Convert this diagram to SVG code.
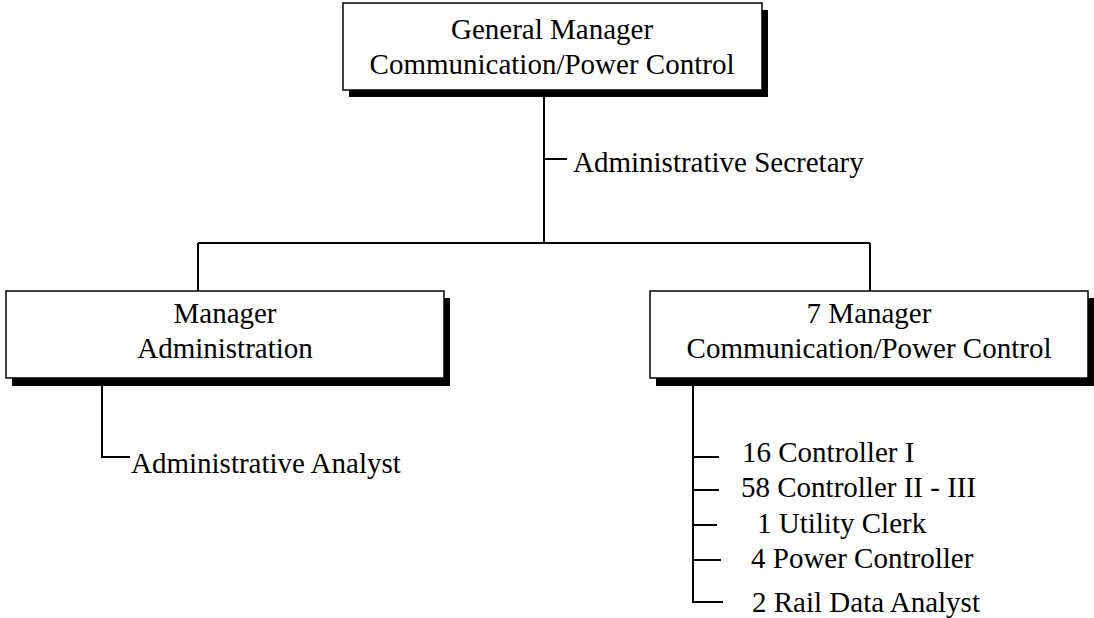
<svg xmlns="http://www.w3.org/2000/svg" width="1094" height="618" viewBox="0 0 1094 618">
<style>
.box{fill:#fff;stroke:#000;stroke-width:1.5}
.shadow{fill:#000}
.t{font-family:"Liberation Serif","Times New Roman",serif;font-size:29px;fill:#000}
.c{text-anchor:middle}
.conn{fill:none;stroke:#000;stroke-width:2}
</style>
<rect width="1094" height="618" fill="#fff"/>
<g id="connectors">
<path class="conn" d="M544 97 V243 M544 159 H567 M198 243 H870 M198 243 V291 M870 243 V291"/>
<path class="conn" d="M102 385 V457 H130"/>
<path class="conn" d="M693 385 V602 H723 M693 457 H719 M693 490 H719 M693 525 H717 M693 560 H721"/>
</g>
<g id="gm">
<rect class="shadow" x="349" y="10" width="419" height="87"/>
<rect class="box" x="343" y="3" width="419" height="87"/>
<text class="t c" x="552" y="39">General Manager</text>
<text class="t c" x="552" y="74">Communication/Power Control</text>
</g>
<g id="secretary">
<text class="t" x="573" y="172">Administrative Secretary</text>
</g>
<g id="mgr-admin">
<rect class="shadow" x="12" y="298" width="438" height="88"/>
<rect class="box" x="6" y="291" width="438" height="87"/>
<text class="t c" x="225" y="323">Manager</text>
<text class="t c" x="225" y="358">Administration</text>
</g>
<g id="analyst">
<text class="t" x="131" y="473">Administrative Analyst</text>
</g>
<g id="mgr-comm">
<rect class="shadow" x="656" y="298" width="438" height="88"/>
<rect class="box" x="650" y="291" width="438" height="87"/>
<text class="t c" x="869" y="323">7 Manager</text>
<text class="t c" x="869" y="358">Communication/Power Control</text>
</g>
<g id="staff">
<text class="t" x="742" y="462">16 Controller I</text>
<text class="t" x="741" y="497">58 Controller II - III</text>
<text class="t" x="757" y="533">1 Utility Clerk</text>
<text class="t" x="751" y="568">4 Power Controller</text>
<text class="t" x="752" y="612">2 Rail Data Analyst</text>
</g>
</svg>
